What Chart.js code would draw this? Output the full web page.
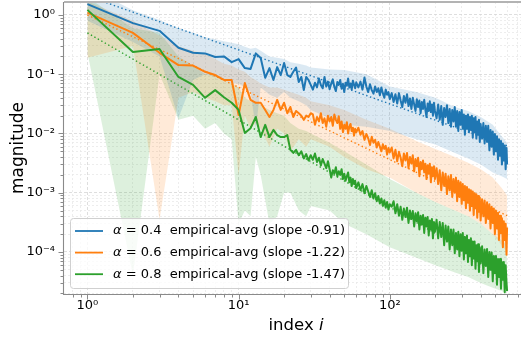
<!DOCTYPE html>
<html><head><meta charset="utf-8">
<script src="https://cdn.jsdelivr.net/npm/chart.js@4.4.1/dist/chart.umd.min.js"></script>
<style>
html,body{margin:0;padding:0;overflow:hidden;background:#fff;width:521px;height:339px}
#wrap{position:absolute;left:0;top:0;width:540px;height:339px}
</style></head>
<body><div id="wrap"><canvas id="c" width="540" height="339"></canvas></div>
<script>
// ---------- data ----------
const indices = [1,2,3,4,5,6,7,8,9,10,11,12,13,14,15,16,17,18,19,20,21,22,23,24,25,26,27,28,29,30,
  31,32,33,34,35,36,37,38,39,40,41,42,43,44,45,46,47,48,49,50,51,52,53,54,55,56,57,58,59,60,
  62,64,66,68,70,72,74,76,78,80,82,84,86,88,90,92,94,96,98,100,
  103,106,109,112,115,118,121,124,127,130,133,136,139,142,145,148,151,154,157,160,163,166,169,172,175,178,181,184,187,190,193,196,199,
  204,209,214,219,224,229,234,239,244,249,254,259,264,269,274,279,284,289,294,299,304,309,314,319,324,329,334,339,344,349,354,359,364,369,374,379,384,389,394,399,
  408,416,424,432,440,448,456,464,472,480,488,496,504,512,520,528,536,544,552,560,568,576,584,592,597];

const blueAvg = [1.53,0.73,0.54,0.28,0.23,0.225,0.195,0.20,0.16,0.18,
  0.127,0.123,0.225,0.188,0.087,0.127,0.080,0.132,0.097,0.155,
  0.097,0.090,0.11,0.13,0.074,0.09,0.054,0.09,0.08,0.066,
  0.055,0.072,0.060,0.085,0.066,0.058,0.090,0.062,0.075,0.056,0.070,0.082,0.061,0.052,0.074,
  0.066,0.080,0.057,0.069,0.050,0.072,0.064,0.085,0.060,0.070,0.055,0.078,0.067,0.058,0.073,
  0.060,0.075,0.055,0.088,0.062,0.050,0.068,0.054,0.047,0.062,0.050,0.058,0.044,0.060,0.048,0.040,0.055,0.045,0.050,0.038,
  0.048,0.034,0.046,0.032,0.048,0.036,0.028,0.043,0.033,0.046,0.029,0.039,0.026,0.040,0.031,0.024,0.038,
  0.028,0.036,0.022,0.034,0.026,0.037,0.025,0.019,0.032,0.024,0.035,0.023,0.031,0.020,0.033,0.024,
  0.018,0.031,0.017,0.029,0.014,0.027,0.019,0.030,0.015,0.026,0.013,0.025,0.016,0.028,0.013,0.024,0.011,0.023,0.014,0.025,
  0.012,0.021,0.0095,0.020,0.012,0.021,0.0105,0.019,0.0115,0.020,0.0085,0.018,0.0105,0.019,0.0082,0.016,0.0095,0.017,0.0072,0.0145,
  0.0082,0.015,0.0068,0.0135,0.0072,0.0135,0.0052,0.0115,0.0060,0.0108,0.0044,0.0098,0.0050,0.0090,0.0036,0.0080,0.0042,0.0075,0.0030,0.0068,0.0035,0.0063,0.0025,0.0057,0.0030];

const orangeAvg = [1.10,0.50,0.23,0.143,0.14,0.11,0.097,0.08,0.08,0.0205,
  0.071,0.037,0.033,0.033,0.025,0.019,0.025,0.037,0.025,0.033,
  0.022,0.028,0.019,0.024,0.022,0.020,0.017,0.020,0.019,0.022,
  0.021,0.014,0.019,0.016,0.022,0.015,0.018,0.013,0.020,0.016,0.019,0.0135,0.021,0.017,0.015,
  0.0195,0.012,0.016,0.0105,0.014,0.012,0.0155,0.010,0.013,0.0145,0.011,0.0125,0.0092,0.012,0.0105,
  0.0125,0.0095,0.011,0.0078,0.0098,0.0083,0.0064,0.0088,0.0070,0.0078,0.0058,0.0072,0.0060,0.0050,0.0066,0.0055,0.0062,0.0044,0.0057,0.0048,
  0.0058,0.0038,0.0053,0.0034,0.0049,0.0039,0.0028,0.0046,0.0035,0.0047,0.0026,0.0040,0.0031,0.0043,0.0023,0.0037,0.0028,
  0.0039,0.0019,0.0033,0.0025,0.0035,0.0022,0.0031,0.0017,0.0029,0.0021,0.0031,0.0015,0.0027,0.0019,0.0028,0.0017,
  0.0026,0.0014,0.0024,0.0011,0.0022,0.0013,0.0021,0.00095,0.0019,0.0011,0.002,0.00085,0.0017,0.001,0.0018,0.00072,0.0016,0.00085,0.0015,0.00065,
  0.0014,0.00075,0.0013,0.00055,0.00125,0.00068,0.00115,0.0005,0.0011,0.0006,0.00105,0.00042,0.00098,0.00055,0.00094,0.00038,0.00088,0.00048,0.00083,0.00034,
  0.00078,0.0004,0.00074,0.00031,0.00069,0.00036,0.00064,0.00025,0.00058,0.00031,0.00054,0.0002,0.00049,0.00025,0.00046,0.00016,0.00041,0.00021,0.00037,0.00012,0.00033,0.00016,0.0003,0.00009,0.00026];

const greenAvg = [1.22,0.237,0.267,0.09,0.066,0.04,0.054,0.041,0.033,0.025,
  0.0102,0.0123,0.019,0.0087,0.014,0.0087,0.0115,0.0094,0.0087,0.0087,
  0.0094,0.0053,0.0047,0.0053,0.0043,0.005,0.0038,0.0045,0.0035,0.0043,
  0.0036,0.0046,0.0033,0.0039,0.0029,0.0037,0.0031,0.0026,0.0034,0.0025,0.0018,0.0024,0.0021,0.0027,0.0019,
  0.0023,0.0020,0.0025,0.0017,0.0021,0.0016,0.0019,0.0022,0.0015,0.0018,0.0013,0.0017,0.0014,0.0016,0.0012,
  0.0015,0.0011,0.0014,0.00098,0.0013,0.00105,0.00085,0.0011,0.0008,0.00098,0.00072,0.00088,0.00066,0.0008,0.0006,0.00075,0.00056,0.0007,0.00052,0.00064,
  0.00058,0.00072,0.00045,0.00064,0.00041,0.00058,0.00035,0.00054,0.00039,0.00056,0.00031,0.0005,0.00036,0.00049,0.00027,0.00045,0.00033,
  0.00047,0.00024,0.00041,0.00029,0.00042,0.00021,0.00038,0.00027,0.00039,0.00019,0.00034,0.00024,0.00036,0.00017,0.00032,0.00022,
  0.00035,0.00017,0.00032,0.00018,0.00031,0.00013,0.00028,0.00015,0.00027,0.00011,0.00024,0.00013,0.00024,9.5e-5,0.00021,0.00011,0.00022,8.5e-5,0.0002,0.000105,
  0.00021,7.5e-5,0.00018,9.5e-5,0.00019,6.8e-5,0.00016,8.5e-5,0.00017,6e-5,0.00015,7.8e-5,0.00015,5.2e-5,0.00013,7e-5,0.000135,4.6e-5,0.00012,6.4e-5,
  0.000125,4.4e-5,0.00011,5.8e-5,0.000112,3.8e-5,0.0001,5e-5,9.8e-5,3.2e-5,8.6e-5,4.4e-5,8.6e-5,2.8e-5,7.6e-5,3.8e-5,7.6e-5,2.4e-5,6.8e-5,3.4e-5,6.8e-5,2.1e-5,6e-5,3e-5,2.2e-5];

const bandIndices = [1,2,3,4,5,6,7,8,9,10,11,12,13,14,16,18,20,22,25,28,30,40,50,70,100,150,200,270,330,400,480,550,597];
const blueHi = [3.0,1.2,0.82,0.6,0.5,0.42,0.39,0.36,0.34,0.32,0.29,0.27,0.28,0.25,0.2,0.19,0.18,0.16,0.15,0.14,0.13,0.12,0.118,0.10,0.062,0.05,0.04,0.028,0.024,0.019,0.014,0.009,0.007];
const blueLo = [0.8,0.35,0.2,0.018,0.08,0.1,0.09,0.08,0.07,0.07,0.06,0.05,0.012,0.06,0.045,0.04,0.05,0.04,0.035,0.03,0.025,0.018,0.014,0.013,0.011,0.008,0.0065,0.0047,0.0038,0.003,0.0022,0.0019,0.0017];
const orangeHi = [1.7,0.8,0.45,0.3,0.25,0.22,0.18,0.15,0.14,0.12,0.11,0.09,0.08,0.07,0.06,0.06,0.055,0.05,0.045,0.04,0.035,0.03,0.025,0.017,0.012,0.0075,0.0055,0.004,0.0032,0.0025,0.0018,0.0012,0.0009];
const orangeLo = [0.19,0.3,0.00035,0.04,0.05,0.04,0.035,0.03,0.03,0.002,0.02,0.012,0.015,0.012,0.006,0.012,0.01,0.005,0.008,0.006,0.008,0.006,0.004,0.0025,0.0018,0.001,0.0007,0.0005,0.0004,0.0003,0.0002,0.00013,0.0001];
const greenHi = [2.0,0.6,0.5,0.2,0.14,0.1,0.1,0.08,0.07,0.06,0.04,0.035,0.035,0.03,0.025,0.022,0.02,0.015,0.012,0.011,0.01,0.007,0.005,0.003,0.0017,0.001,0.0007,0.0005,0.0004,0.0003,0.0002,0.00016,0.00013];
const greenLo = [0.23,4e-5,0.1,0.017,0.02,0.012,0.015,0.01,0.008,3e-4,5e-4,4e-4,0.004,0.002,3e-4,4e-4,0.001,0.001,5e-4,4e-4,6e-4,5e-4,3e-4,2e-4,1.2e-4,8e-5,6e-5,4.5e-5,3.8e-5,3e-5,2.5e-5,2.2e-5,2e-5];

const fitIndices = [1, 597];
const blueFit = [2.1, 0.0062];
const orangeFit = [1.0, 0.00041];
const greenFit = [0.5, 0.0000415];

const alphaLabels = ['0.4', '0.6', '0.8'];
const slopeLabels = ['-0.91', '-1.22', '-1.47'];
const xMajorTicks = [1, 10, 100];
const xTickLabels = ['10\u2070', '10\u00b9', '10\u00b2'];
const yMajorTicks = [1e-4, 1e-3, 1e-2, 1e-1, 1];
const yTickLabels = ['10\u207b\u2074', '10\u207b\u00b3', '10\u207b\u00b2', '10\u207b\u00b9', '10\u2070'];

[blueAvg, orangeAvg, greenAvg].forEach((a, k) => { if (a.length !== indices.length) throw new Error('series ' + k + ' length ' + a.length + ' vs ' + indices.length); });
[blueHi, blueLo, orangeHi, orangeLo, greenHi, greenLo].forEach((a, k) => { if (a.length !== bandIndices.length) throw new Error('band ' + k + ' length ' + a.length); });

// ---------- styling ----------
const COLORS = ['#1f77b4', '#ff7f0e', '#2ca02c'];
const FILLS = ['rgba(31,119,180,0.16)', 'rgba(255,127,14,0.16)', 'rgba(44,160,44,0.16)'];
const FONT = 'DejaVu Sans';

const pts = (xs, ys) => xs.map((x, i) => ({x: x, y: ys[i]}));
function logTicks(lo, hi) {
  const out = [];
  for (let e = -6; e <= 4; e++) for (let m = 1; m <= 9; m++) {
    const v = m * Math.pow(10, e);
    if (v >= lo && v <= hi) out.push({value: v});
  }
  return out;
}
const isMajor = v => Math.abs(Math.log10(v) - Math.round(Math.log10(v))) < 1e-6;
function labelFor(v, majors, labels) {
  for (let i = 0; i < majors.length; i++) if (Math.abs(v / majors[i] - 1) < 1e-6) return labels[i];
  return '';
}

const means = [blueAvg, orangeAvg, greenAvg];
const his = [blueHi, orangeHi, greenHi];
const los = [blueLo, orangeLo, greenLo];
const fits = [blueFit, orangeFit, greenFit];

const datasets = [];
for (let s = 0; s < 3; s++) {
  datasets.push({data: pts(bandIndices, his[s]), fill: datasets.length + 1, backgroundColor: FILLS[s],
    borderWidth: 0, pointRadius: 0, order: 5});
  datasets.push({data: pts(bandIndices, los[s]), fill: false, borderWidth: 0, pointRadius: 0, order: 5});
}
for (let s = 0; s < 3; s++) {
  datasets.push({data: pts(fitIndices, fits[s]), borderColor: COLORS[s], borderWidth: 1.4,
    borderDash: [1.4, 2.6], pointRadius: 0, fill: false, order: 4});
}
for (let s = 0; s < 3; s++) {
  datasets.push({data: pts(indices, means[s]), borderColor: COLORS[s], borderWidth: 2,
    borderJoinStyle: 'round', pointRadius: 0, fill: false, order: 3 - s, isMain: true, legendIdx: s});
}

const decor = {
  id: 'decor',
  afterDraw(chart) {
    const ctx = chart.ctx, a = chart.chartArea;
    const xs = chart.scales.x, ys = chart.scales.y;
    ctx.save();
    ctx.strokeStyle = '#b3b3b3'; ctx.lineWidth = 2;
    ctx.beginPath(); ctx.moveTo(a.left, a.top); ctx.lineTo(a.right, a.top); ctx.stroke();
    ctx.strokeStyle = '#8a8a8a'; ctx.lineWidth = 1.1;
    ctx.beginPath(); ctx.moveTo(a.left - 0.5, a.top); ctx.lineTo(a.left - 0.5, a.bottom + 0.5);
    ctx.lineTo(a.right, a.bottom + 0.5); ctx.stroke();
    ctx.strokeStyle = '#8a8a8a'; ctx.lineWidth = 1;
    xs.ticks.forEach(t => {
      const p = Math.round(xs.getPixelForValue(t.value)) + 0.5;
      if (p < a.left || p > a.right) return;
      const len = isMajor(t.value) ? 4.5 : 2.5;
      ctx.beginPath(); ctx.moveTo(p, a.bottom + 1); ctx.lineTo(p, a.bottom + 1 + len); ctx.stroke();
    });
    ys.ticks.forEach(t => {
      const p = Math.round(ys.getPixelForValue(t.value)) + 0.5;
      if (p < a.top || p > a.bottom) return;
      const len = isMajor(t.value) ? 4.5 : 2.5;
      ctx.beginPath(); ctx.moveTo(a.left - 1, p); ctx.lineTo(a.left - 1 - len, p); ctx.stroke();
    });
    ctx.fillStyle = '#000';
    ctx.textBaseline = 'alphabetic';
    const t1 = 'index ', t2 = 'i';
    ctx.font = '16.5px "' + FONT + '"';
    const w1 = ctx.measureText(t1).width;
    ctx.font = 'italic 16.5px "' + FONT + '"';
    const w2 = ctx.measureText(t2).width;
    const cx = (a.left + a.right) / 2;
    const x0 = cx - (w1 + w2) / 2;
    ctx.font = '16.5px "' + FONT + '"'; ctx.textAlign = 'left';
    ctx.fillText(t1, x0, 330);
    ctx.font = 'italic 16.5px "' + FONT + '"';
    ctx.fillText(t2, x0 + w1, 330);
    ctx.save();
    ctx.translate(19, (a.top + a.bottom) / 2);
    ctx.rotate(-Math.PI / 2);
    ctx.font = '17px "' + FONT + '"'; ctx.textAlign = 'center'; ctx.textBaseline = 'middle';
    ctx.fillText('magnitude', 0, 0);
    ctx.restore();
    const L = {x: 70, y: 218, w: 278, h: 70, r: 3};
    ctx.beginPath();
    ctx.roundRect(L.x + 0.5, L.y + 0.5, L.w, L.h, L.r);
    ctx.fillStyle = 'rgba(255,255,255,0.8)'; ctx.fill();
    ctx.strokeStyle = '#d0d0d0'; ctx.lineWidth = 1; ctx.stroke();
    const mains = chart.data.datasets.filter(d => d.isMain).sort((p, q) => p.legendIdx - q.legendIdx);
    mains.forEach((d, k) => {
      const y = 231 + k * 21.6;
      ctx.strokeStyle = d.borderColor; ctx.lineWidth = 1.8;
      ctx.beginPath(); ctx.moveTo(75, y); ctx.lineTo(103, y); ctx.stroke();
      ctx.fillStyle = '#000'; ctx.textAlign = 'left'; ctx.textBaseline = 'middle';
      ctx.font = 'italic 13px "' + FONT + '"';
      ctx.fillText('\u03b1', 113, y);
      const wa = ctx.measureText('\u03b1').width;
      ctx.font = '13px "' + FONT + '"';
      ctx.fillText(' = ' + alphaLabels[d.legendIdx] + '  empirical-avg (slope ' + slopeLabels[d.legendIdx] + ')', 113 + wa, y);
    });
    ctx.restore();
  }
};

const gridColor = c => isMajor(c.tick.value) ? '#d6d6d6' : '#e9e9e9';
const gridDash = c => isMajor(c.tick.value) ? [3, 2] : [2, 2];

new Chart(document.getElementById('c'), {
  type: 'line',
  data: {datasets: datasets},
  options: {
    responsive: false, animation: false, devicePixelRatio: 1,
    layout: {padding: {left: 0, top: 2, right: 12, bottom: 0}},
    plugins: {legend: {display: false}, tooltip: {enabled: false}},
    elements: {line: {tension: 0}},
    scales: {
      x: {
        type: 'logarithmic', min: 0.7275, max: 821,
        afterFit: s => { s.height = 45; s.paddingLeft = 0; s.paddingRight = 0; s.paddingTop = 0; s.paddingBottom = 0; },
        afterBuildTicks: s => { s.ticks = logTicks(0.7275, 821); },
        ticks: {autoSkip: false, maxRotation: 0, padding: 4, color: '#000',
          font: {family: FONT, size: 13},
          callback: v => labelFor(v, xMajorTicks, xTickLabels)},
        grid: {color: gridColor, lineWidth: 0.8, drawTicks: false},
        border: {display: false, dash: gridDash}
      },
      y: {
        type: 'logarithmic', min: 1.955e-5, max: 1.657,
        afterFit: s => { s.width = 64; s.paddingTop = 0; s.paddingBottom = 0; s.paddingLeft = 0; s.paddingRight = 0; },
        afterBuildTicks: s => { s.ticks = logTicks(1.955e-5, 1.657); },
        ticks: {autoSkip: false, padding: 9, color: '#000',
          font: {family: FONT, size: 13},
          callback: v => labelFor(v, yMajorTicks, yTickLabels)},
        grid: {color: gridColor, lineWidth: 0.8, drawTicks: false},
        border: {display: false, dash: gridDash}
      }
    }
  },
  plugins: [decor]
});
</script></body></html>
